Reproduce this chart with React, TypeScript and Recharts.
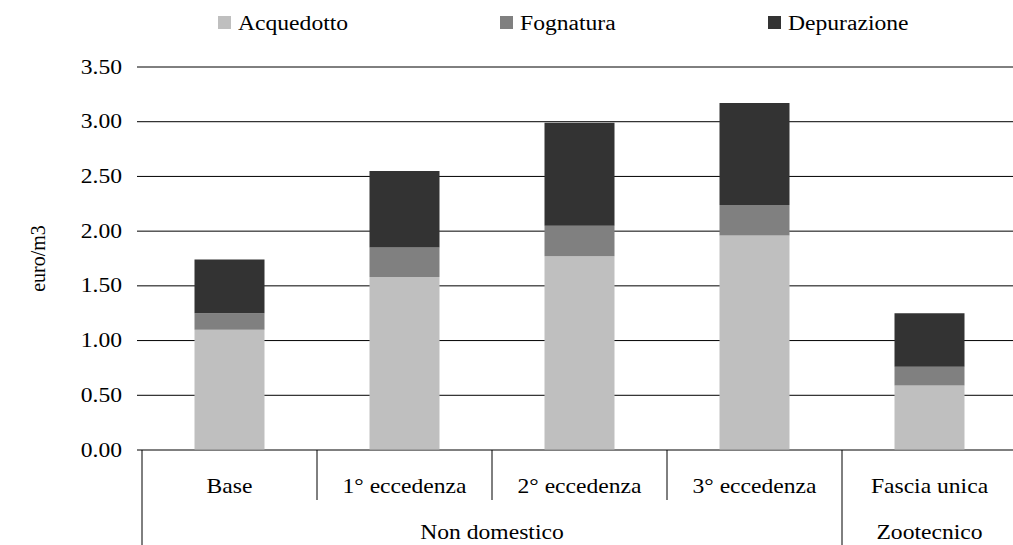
import { BarChart, Bar, XAxis, YAxis, CartesianGrid, Legend } from "recharts";

const categories = ["Base", "1° eccedenza", "2° eccedenza", "3° eccedenza", "Fascia unica"];
const groups = [
  { label: "Non domestico", span: 4 },
  { label: "Zootecnico", span: 1 },
];
const acquedotto = [1.1, 1.58, 1.77, 1.96, 0.59];
const fognatura = [0.15, 0.27, 0.28, 0.28, 0.17];
const depurazione = [0.49, 0.7, 0.94, 0.93, 0.49];
const yTicks = [0, 0.5, 1, 1.5, 2, 2.5, 3, 3.5];

const series = [
  { key: "acquedotto", name: "Acquedotto", color: "#bfbfbf" },
  { key: "fognatura", name: "Fognatura", color: "#808080" },
  { key: "depurazione", name: "Depurazione", color: "#333333" },
];

const data = categories.map((name, i) => ({
  name,
  acquedotto: acquedotto[i],
  fognatura: fognatura[i],
  depurazione: depurazione[i],
}));

const W = 1030;
const H = 545;
const MARGIN = { top: 37, right: 13, bottom: 0, left: 0 };
const Y_W = 142;
const BAND = (W - MARGIN.left - MARGIN.right - Y_W) / categories.length;
const FONT = "Liberation Serif";
const SX = 1.18; // the source text is stretched horizontally

// which group starts at a given category index
const groupAt: Record<number, { label: string; span: number }> = {};
let acc = 0;
groups.forEach((g) => {
  groupAt[acc] = g;
  acc += g.span;
});

const txt = { fontSize: 20, fontFamily: FONT, fill: "#000" };

function CatTick(props: any) {
  const { x, y, payload } = props;
  const i = payload.index;
  const left = x - BAND / 2;
  const g = groupAt[i];
  return (
    <g>
      <line x1={left} x2={left} y1={y} y2={g ? y + 95 : y + 50} stroke="#000" />
      {i === categories.length - 1 && (
        <line x1={left + BAND} x2={left + BAND} y1={y} y2={y + 95} stroke="#000" />
      )}
      <g transform={`translate(${x},${y + 43})`}>
        <text transform={`scale(${SX},1)`} textAnchor="middle" style={txt}>
          {payload.value}
        </text>
      </g>
      {g && (
        <g transform={`translate(${left + (g.span * BAND) / 2},${y + 89})`}>
          <text transform={`scale(${SX},1)`} textAnchor="middle" style={txt}>
            {g.label}
          </text>
        </g>
      )}
    </g>
  );
}

function ValTick(props: any) {
  const { x, y, payload } = props;
  return (
    <g transform={`translate(${x},${y})`}>
      <text transform={`scale(${SX},1)`} textAnchor="end" dy="0.33em" style={txt}>
        {Number(payload.value).toFixed(2)}
      </text>
    </g>
  );
}

const legendLeft = [218, 500, 768];

function LegendBox() {
  return (
    <div style={{ position: "relative", height: 30, width: W }}>
      {series.map((s, i) => (
        <div key={s.key} style={{ position: "absolute", left: legendLeft[i], top: 0, height: 30 }}>
          <span
            style={{ position: "absolute", left: 0, top: 16, width: 13, height: 13, background: s.color }}
          />
          <span
            style={{
              position: "absolute",
              left: 20,
              top: 13,
              lineHeight: "20px",
              fontSize: 20,
              fontFamily: FONT,
              color: "#000",
              whiteSpace: "nowrap",
              transform: `scaleX(${SX})`,
              transformOrigin: "left",
            }}
          >
            {s.name}
          </span>
        </div>
      ))}
    </div>
  );
}

export default function App() {
  return (
    <div style={{ position: "fixed", left: 0, top: 0, width: 1013, height: H, overflow: "hidden", background: "#fff", fontFamily: FONT }}>
      <BarChart width={W} height={H} data={data} margin={MARGIN} barCategoryGap="30%">
        <CartesianGrid horizontal vertical={false} stroke="#000" />
        <XAxis
          dataKey="name"
          height={95}
          interval={0}
          tickLine={false}
          tickSize={0}
          tickMargin={0}
          axisLine={{ stroke: "#808080" }}
          tick={<CatTick />}
        />
        <YAxis
          width={Y_W}
          domain={[0, 3.5]}
          ticks={yTicks}
          axisLine={false}
          tickLine={{ stroke: "#000" }}
          tickSize={5}
          tickMargin={15}
          tick={<ValTick />}
          label={{
            value: "euro/m3",
            angle: -90,
            position: "center",
            dx: -33,
            style: txt,
          }}
        />
        <Legend
          verticalAlign="top"
          wrapperStyle={{ top: 0, left: 0, width: W }}
          content={() => <LegendBox />}
        />
        {series.map((s) => (
          <Bar key={s.key} dataKey={s.key} name={s.name} stackId="a" fill={s.color} isAnimationActive={false} />
        ))}
      </BarChart>
    </div>
  );
}
